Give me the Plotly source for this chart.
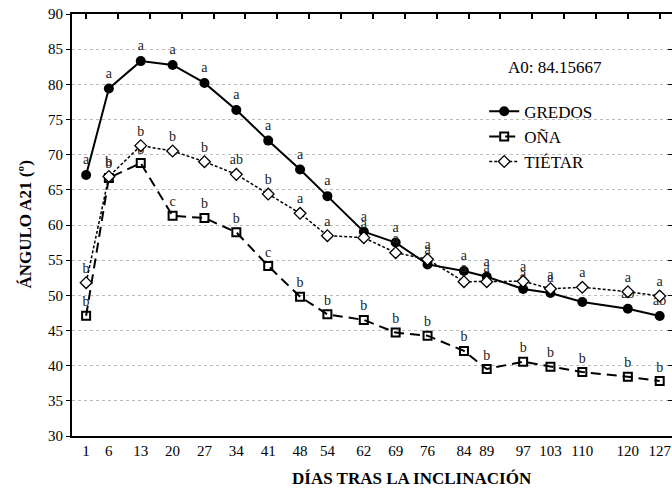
import plotly.graph_objects as go

days = [1, 6, 13, 20, 27, 34, 41, 48, 54, 62, 69, 76, 84, 89, 97, 103, 110, 120, 127]
day_labels = [str(d) for d in days]

gredos = [67.1, 79.4, 83.3, 82.75, 80.2, 76.35, 72.0, 67.9, 64.1, 59.05, 57.5, 54.4,
          53.46, 52.65, 50.9, 50.33, 49.05, 48.1, 47.06]
ona = [47.1, 66.7, 68.8, 61.3, 61.0, 58.96, 54.17, 49.8, 47.3, 46.5, 44.7, 44.26,
       42.1, 39.52, 40.57, 39.85, 39.1, 38.43, 37.82]
tietar = [51.8, 66.9, 71.28, 70.52, 69.0, 67.2, 64.4, 61.66, 58.48, 58.2, 56.06, 55.12,
          51.94, 51.94, 52.0, 50.94, 51.14, 50.52, 49.9]

gredos_letters = ["a"] * 17 + ["ab", "ab"]
ona_letters = ["b", "b", "b", "c", "b", "b", "c", "b", "b", "b", "b", "b", "b", "b",
               "b", "b", "b", "b", "b"]
tietar_letters = ["b", "b", "b", "b", "b", "ab", "b", "a", "a", "a", "a", "a", "a", "a",
                  "a", "a", "a", "a", "a"]

top_ticks = list(range(1, 128, 7))
y_ticks = list(range(30, 91, 5))

FONT = "Liberation Serif, Times New Roman, Times, serif"
xr = [-2.1, 129.7]
yr = [30, 90]

fig = go.Figure()
fig.add_trace(go.Scatter(
    x=days, y=gredos, name="GREDOS", mode="lines+markers+text",
    text=gredos_letters, textposition="top center",
    textfont=dict(family=FONT, size=14, color="#222"),
    line=dict(color="black", width=2),
    marker=dict(symbol="circle", size=10, color="black"),
))
fig.add_trace(go.Scatter(
    x=days, y=ona, name="OÑA", mode="lines+markers+text",
    text=ona_letters, textposition="top center",
    textfont=dict(family=FONT, size=14, color="#222"),
    line=dict(color="black", width=2, dash="10px,6px"),
    marker=dict(symbol="square-open", size=8, color="black", line=dict(width=2)),
))
fig.add_trace(go.Scatter(
    x=days, y=tietar, name="TIÉTAR", mode="lines+markers+text",
    text=tietar_letters, textposition="top center",
    textfont=dict(family=FONT, size=14, color="#222"),
    line=dict(color="black", width=1.5, dash="3px,2px"),
    marker=dict(symbol="diamond", size=9, color="white", line=dict(width=1.3, color="black")),
))
# invisible trace for top/right axes
fig.add_trace(go.Scatter(x=xr, y=yr, xaxis="x2", yaxis="y2", mode="markers",
                         marker=dict(opacity=0), showlegend=False, hoverinfo="skip"))

fig.update_layout(
    template="none",
    width=672, height=489,
    margin=dict(l=72, r=0, t=14, b=53, autoexpand=False),
    paper_bgcolor="white", plot_bgcolor="white",
    font=dict(family=FONT, color="black"),
    xaxis=dict(range=xr, tickvals=days, ticktext=day_labels, showgrid=False,
               zeroline=False, showline=True, linecolor="black", linewidth=2,
               ticks="", tickfont=dict(family=FONT, size=15), automargin=False),
    yaxis=dict(range=yr, tickvals=y_ticks, showgrid=True, gridcolor="#bbbbbb",
               griddash="dot", gridwidth=1, zeroline=False, showline=True,
               linecolor="black", linewidth=2, ticks="outside", ticklen=4,
               tickcolor="black", tickfont=dict(family=FONT, size=15),
               automargin=False),
    xaxis2=dict(range=xr, overlaying="x", side="top", tickvals=top_ticks,
                showticklabels=False, ticks="inside", ticklen=5, tickwidth=1.5,
                tickcolor="black", showline=True, linecolor="black", linewidth=2,
                showgrid=False, zeroline=False, automargin=False),
    yaxis2=dict(range=yr, overlaying="y", side="right", tickvals=y_ticks,
                showticklabels=False, ticks="inside", ticklen=4, tickcolor="black",
                showline=True, linecolor="black", linewidth=2, showgrid=False,
                zeroline=False, automargin=False),
    showlegend=True,
    legend=dict(x=0.687, y=0.811, xanchor="left", yanchor="top",
                bgcolor="rgba(0,0,0,0)", font=dict(family=FONT, size=17),
                tracegroupgap=0, itemsizing="trace"),
    annotations=[
        dict(text="A0: 84.15667", xref="paper", yref="paper", x=0.805, y=0.874,
             showarrow=False, font=dict(family=FONT, size=17), xanchor="center",
             yanchor="middle"),
        dict(text="<b>DÍAS TRAS LA INCLINACIÓN</b>", xref="paper", yref="paper",
             x=0.566, y=-0.1, showarrow=False, font=dict(family=FONT, size=17),
             xanchor="center", yanchor="middle"),
        dict(text="<b>ÁNGULO A21 (º)</b>", xref="paper", yref="paper",
             x=-0.079, y=0.5, textangle=-90, showarrow=False,
             font=dict(family=FONT, size=17), xanchor="center", yanchor="middle"),
    ],
)

fig.write_html("out.html", config={"displayModeBar": False},
               post_script="document.body.style.margin='0px';document.body.style.overflow='hidden';")
